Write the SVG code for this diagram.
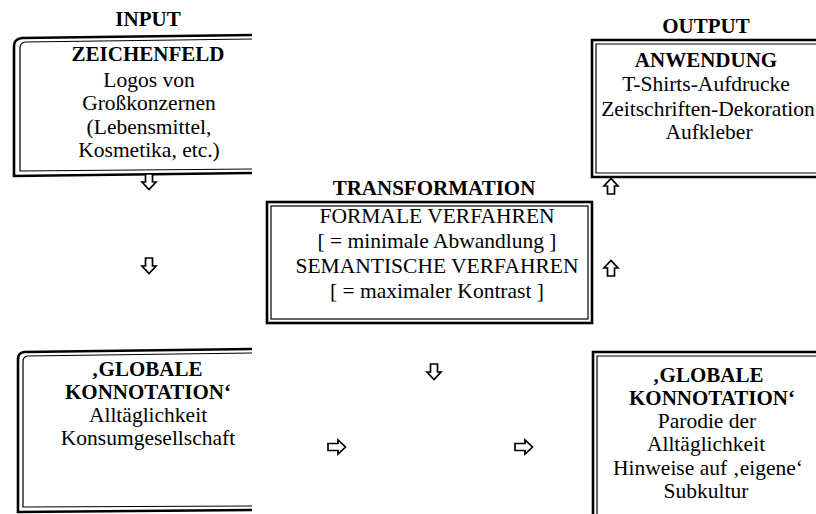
<svg xmlns="http://www.w3.org/2000/svg" width="816" height="514" viewBox="0 0 816 514">
<style>
.b{font-family:"Liberation Serif","Times New Roman",serif;font-weight:bold;font-size:21px;fill:#000;text-anchor:middle}
.t{font-family:"Liberation Serif","Times New Roman",serif;font-size:21.5px;fill:#000;text-anchor:middle}
.o{fill:none;stroke:#000;stroke-width:2.6}
.i{fill:none;stroke:#000;stroke-width:1.2}
.arr{fill:#fff;stroke:#000;stroke-width:1.7;stroke-linejoin:miter}
</style>
<defs>
<path id="dn" d="M-3.5,-8 H3.5 V0 H7 L0,7.5 L-7,0 H-3.5 Z"/>
<path id="up" d="M-3.5,8 H3.5 V0 H7 L0,-7.5 L-7,0 H-3.5 Z"/>
<path id="rt" d="M-9,-3.5 V3.5 H1 V7 L8.5,0 L1,-7 V-3.5 Z"/>
</defs>
<rect width="816" height="514" fill="#fff"/>
<text class="b" x="148" y="26">INPUT</text>
<text class="b" x="706" y="33">OUTPUT</text>
<text class="b" x="434" y="195">TRANSFORMATION</text>
<g id="zeichenfeld">
<path class="o" d="M252 35 L22 38 Q14 39 14 46 L14 176 L252 173" stroke-width="3.2"/>
<path class="i" d="M252 39 L25 42 Q20 43 20 48 L20 171 L252 169"/>
<text class="b" x="148" y="61">ZEICHENFELD</text>
<text class="t" x="149" y="87">Logos von</text>
<text class="t" x="149" y="110">Großkonzernen</text>
<text class="t" x="149" y="134">(Lebensmittel,</text>
<text class="t" x="149" y="157">Kosmetika, etc.)</text>
</g>
<g id="anwendung">
<path class="o" d="M816 40 H592 V177 H816"/>
<path class="i" d="M816 44 H596 V173 H816"/>
<text class="b" x="706" y="67">ANWENDUNG</text>
<text class="t" x="706" y="91">T-Shirts-Aufdrucke</text>
<text class="t" x="708" y="116">Zeitschriften-Dekoration</text>
<text class="t" x="709" y="139">Aufkleber</text>
</g>
<g id="transformation">
<rect class="o" x="267" y="202" width="325" height="121"/>
<rect class="i" x="271" y="206" width="317" height="113"/>
<text class="t" x="437" y="223">FORMALE VERFAHREN</text>
<text class="t" x="437" y="248">[ = minimale Abwandlung ]</text>
<text class="t" x="437" y="273">SEMANTISCHE VERFAHREN</text>
<text class="t" x="437" y="298">[ = maximaler Kontrast ]</text>
</g>
<g id="konnotation-links">
<path class="o" d="M252 349 L24 352 Q18 353 18 359 L18 512 L252 510" stroke-width="3.2"/>
<path class="i" d="M252 353 L27 356 Q23 357 23 362 L23 507 L252 506"/>
<text class="b" x="147" y="376">‚GLOBALE</text>
<text class="b" x="148" y="399">KONNOTATION‘</text>
<text class="t" x="148" y="422">Alltäglichkeit</text>
<text class="t" x="148" y="445">Konsumgesellschaft</text>
</g>
<g id="konnotation-rechts">
<path class="o" d="M816 352 H593 V514"/>
<path class="i" d="M816 356 H597 V514"/>
<text class="b" x="708" y="382">‚GLOBALE</text>
<text class="b" x="712" y="405">KONNOTATION‘</text>
<text class="t" x="707" y="428">Parodie der</text>
<text class="t" x="706" y="451">Alltäglichkeit</text>
<text class="t" x="708" y="475">Hinweise auf ‚eigene‘</text>
<text class="t" x="706" y="498">Subkultur</text>
</g>
<g id="connectors">
<use href="#dn" class="arr" x="149" y="182"/>
<use href="#dn" class="arr" x="149" y="266"/>
<use href="#dn" class="arr" x="434" y="372"/>
<use href="#up" class="arr" x="611" y="186"/>
<use href="#up" class="arr" x="611" y="268"/>
<use href="#rt" class="arr" x="337" y="447"/>
<use href="#rt" class="arr" x="524" y="447"/>
</g>
</svg>
